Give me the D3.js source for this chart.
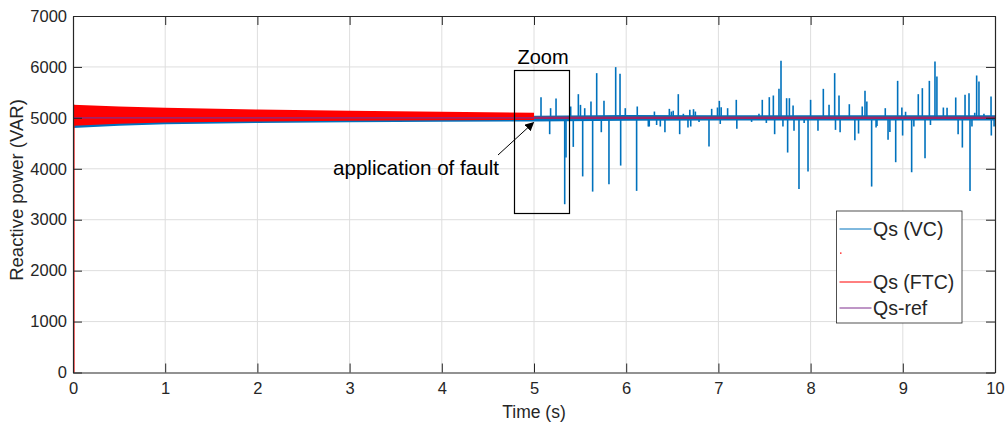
<!DOCTYPE html>
<html lang="en">
<head>
<meta charset="UTF-8">
<title>Reactive power</title>
<script src="https://cdnjs.cloudflare.com/ajax/libs/d3/7.8.5/d3.min.js"></script>
<style>
    body { margin: 0; background: #fff; }
    svg text { font-family: "Liberation Sans", Arial, sans-serif; fill: #262626; }
    .axis path, .axis line { stroke: #262626; }
    .grid line { stroke: #dedede; stroke-width: 1; }
</style>
</head>
<body>
<svg id="chart" width="1007" height="423"></svg>
<script>
// tick labels
const timeTicks = [0, 1, 2, 3, 4, 5, 6, 7, 8, 9, 10];
const powerTicks = [0, 1000, 2000, 3000, 4000, 5000, 6000, 7000];

// reference and fault instant
const refValue = 5000;
const faultTime = 5;

// FTC envelope before the fault (dense ripple)
const ftcTime  = [0, 0.5, 1, 2, 3, 4, 5];
const ftcUpper = [5255, 5225, 5200, 5165, 5140, 5120, 5100];
const ftcLower = [4845, 4885, 4910, 4930, 4942, 4952, 4958];

// VC envelope (small ripple)
const vcTime  = [0, 0.5, 1, 2, 3, 4, 5, 6, 7, 8, 9, 10];
const vcLower = [4800, 4845, 4875, 4900, 4912, 4922, 4928, 4945, 4950, 4950, 4950, 4950];
const vcUpper = [5000, 5005, 5010, 5015, 5020, 5025, 5040, 5055, 5050, 5050, 5050, 5050];

// VC spikes after the fault [time, value]
const vcSpikes = [
    [5.076, 5406], [5.17, 4679], [5.18, 5190], [5.239, 5380], [5.333, 3304], [5.347, 4220],
    [5.398, 5223], [5.426, 4430], [5.481, 5465], [5.504, 5255], [5.528, 3850], [5.55, 5190],
    [5.618, 5320], [5.636, 3552], [5.68, 5878], [5.73, 4718], [5.759, 5334], [5.813, 3697],
    [5.886, 5996], [5.933, 5865], [5.94, 4063], [5.99, 5190], [6.113, 3566], [6.12, 5223],
    [6.24, 4830], [6.25, 4830], [6.306, 5124], [6.33, 4860], [6.37, 4830], [6.42, 4718],
    [6.468, 5177], [6.49, 5124], [6.51, 5140], [6.565, 5465], [6.58, 4679], [6.62, 5080],
    [6.67, 4810], [6.69, 5157], [6.70, 4830], [6.73, 5170], [6.75, 5124], [6.79, 4920],
    [6.898, 4437], [6.927, 5177], [6.99, 5203], [7.01, 5334], [7.02, 4880], [7.03, 5210],
    [7.10, 5190], [7.194, 5354], [7.2, 4784], [7.36, 4920], [7.44, 5080], [7.476, 5354],
    [7.52, 4900], [7.552, 5406], [7.596, 5439], [7.61, 4679], [7.657, 5570], [7.679, 6120],
    [7.70, 4830], [7.74, 5386], [7.751, 4319], [7.77, 5386], [7.81, 5242], [7.82, 4745],
    [7.874, 3605], [7.93, 4900], [7.972, 3945], [8.0, 5354], [8.08, 4745], [8.138, 5570],
    [8.20, 5255], [8.261, 5878], [8.27, 4764], [8.308, 5439], [8.32, 4718], [8.42, 5268],
    [8.48, 4561], [8.52, 4692], [8.56, 5223], [8.59, 5531], [8.61, 5320], [8.662, 3651],
    [8.71, 4810], [8.72, 4840], [8.81, 5190], [8.84, 4568], [8.86, 4720], [8.923, 4129],
    [8.944, 5727], [8.99, 5203], [8.998, 4653], [9.03, 5120], [9.096, 3932], [9.12, 4830],
    [9.168, 5465], [9.212, 5583], [9.241, 4207], [9.288, 5727], [9.30, 4860], [9.349, 6107],
    [9.37, 5812], [9.44, 5203], [9.48, 5200], [9.574, 5400], [9.60, 4679], [9.646, 4417],
    [9.675, 5452], [9.718, 5485], [9.729, 3566], [9.75, 4830], [9.78, 5100], [9.801, 5832],
    [9.826, 5714], [9.88, 5080], [9.957, 5420], [9.96, 4653], [9.99, 4830]
];

const legendLabels = ["Qs (VC)", "Qs (FTC)", "Qs-ref"];
const colors = { vc: "#0072BD", ftc: "#FF0000", ref: "#7E2F8E" };

const W = 1007, H = 423;
const margin = { top: 16, right: 12, bottom: 50.5, left: 73 };
const iw = W - margin.left - margin.right;
const ih = H - margin.top - margin.bottom;

const svg = d3.select("#chart");
const g = svg.append("g").attr("transform", `translate(${margin.left},${margin.top})`);

const x = d3.scaleLinear().domain([0, 10]).range([0, iw]);
const y = d3.scaleLinear().domain([0, 7000]).range([ih, 0]);

// grid
const grid = g.append("g").attr("class", "grid");
grid.selectAll(".gx").data(timeTicks.slice(1, -1)).enter().append("line")
    .attr("x1", d => x(d)).attr("x2", d => x(d)).attr("y1", 0).attr("y2", ih);
grid.selectAll(".gy").data(powerTicks.slice(1, -1)).enter().append("line")
    .attr("y1", d => y(d)).attr("y2", d => y(d)).attr("x1", 0).attr("x2", iw);

const plot = g.append("g");
const band = d3.area().x(d => x(d[0])).y0(d => y(d[1])).y1(d => y(d[2]));

// VC band
plot.append("path")
    .datum(vcTime.map((t, i) => [t, vcLower[i], vcUpper[i]]))
    .attr("fill", colors.vc)
    .attr("d", band);

// VC spikes
plot.selectAll(".spike").data(vcSpikes).enter().append("line")
    .attr("x1", d => x(d[0])).attr("x2", d => x(d[0]))
    .attr("y1", y(refValue)).attr("y2", d => y(d[1]))
    .attr("stroke", colors.vc).attr("stroke-width", 1.6);

// FTC start-up + ripple band, then flat after the fault
plot.append("line")
    .attr("x1", x(0) + 0.8).attr("x2", x(0) + 0.8)
    .attr("y1", y(0)).attr("y2", y(ftcUpper[0]))
    .attr("stroke", colors.ftc).attr("stroke-width", 1.5);
plot.append("path")
    .datum(ftcTime.map((t, i) => [t, ftcLower[i], ftcUpper[i]]))
    .attr("fill", colors.ftc)
    .attr("d", band);
plot.append("line")
    .attr("x1", x(faultTime)).attr("x2", x(10))
    .attr("y1", y(refValue)).attr("y2", y(refValue))
    .attr("stroke", colors.ftc).attr("stroke-width", 2);

// reference
plot.append("line")
    .attr("x1", x(0)).attr("x2", x(10))
    .attr("y1", y(refValue)).attr("y2", y(refValue))
    .attr("stroke", colors.ref).attr("stroke-width", 1.2);

// axes, ticks inside, box all around
const noLabel = () => "";
g.append("g").attr("class", "axis").attr("transform", `translate(0,${ih})`)
    .call(d3.axisBottom(x).tickValues(timeTicks).tickSizeInner(-9).tickSizeOuter(0).tickPadding(10));
g.append("g").attr("class", "axis")
    .call(d3.axisTop(x).tickValues(timeTicks).tickSizeInner(-9).tickSizeOuter(0).tickFormat(noLabel));
g.append("g").attr("class", "axis")
    .call(d3.axisLeft(y).tickValues(powerTicks).tickFormat(d3.format("d"))
        .tickSizeInner(-9).tickSizeOuter(0).tickPadding(6));
g.append("g").attr("class", "axis").attr("transform", `translate(${iw},0)`)
    .call(d3.axisRight(y).tickValues(powerTicks).tickSizeInner(-9).tickSizeOuter(0).tickFormat(noLabel));
svg.selectAll(".axis").attr("font-family", null).attr("font-size", null);
svg.selectAll(".axis text").attr("font-size", 16.5);
svg.selectAll(".axis .domain").attr("stroke-width", 1.2);

// axis titles
svg.append("text")
    .attr("x", margin.left + x(5)).attr("y", 418)
    .attr("text-anchor", "middle").attr("font-size", 17.5)
    .text("Time (s)");
svg.append("text")
    .attr("transform", "translate(23,190) rotate(-90)")
    .attr("text-anchor", "middle").attr("font-size", 18.5)
    .text("Reactive power (VAR)");

// zoom box and fault annotation
const ann = svg.append("g");
ann.append("rect")
    .attr("x", 514.5).attr("y", 70.5).attr("width", 55).attr("height", 143)
    .attr("fill", "none").attr("stroke", "#000").attr("stroke-width", 1.2);
ann.append("text")
    .attr("x", 543).attr("y", 64).attr("text-anchor", "middle")
    .attr("font-size", 20).style("fill", "#000").text("Zoom");
ann.append("text")
    .attr("x", 499).attr("y", 175).attr("text-anchor", "end")
    .attr("font-size", 20.6).style("fill", "#000").text("application of fault");

svg.append("defs").append("marker")
    .attr("id", "arrow").attr("viewBox", "0 0 10 10")
    .attr("refX", 9).attr("refY", 5)
    .attr("markerWidth", 9).attr("markerHeight", 9)
    .attr("markerUnits", "userSpaceOnUse")
    .attr("orient", "auto")
    .append("path").attr("d", "M0,0 L10,5 L0,10 Z").attr("fill", "#000");
ann.append("line")
    .attr("x1", 498).attr("y1", 155).attr("x2", 533.5).attr("y2", 122.5)
    .attr("stroke", "#000").attr("stroke-width", 1)
    .attr("marker-end", "url(#arrow)");

// legend
const lg = svg.append("g").attr("transform", "translate(836.5,211)");
lg.append("rect").attr("width", 125.5).attr("height", 112)
    .attr("fill", "#fff").attr("stroke", "#262626").attr("stroke-width", 0.8);
const legendRows = [
    { label: legendLabels[0], color: colors.vc, y: 18 },
    { label: legendLabels[1], color: colors.ftc, y: 71 },
    { label: legendLabels[2], color: colors.ref, y: 97 }
];
legendRows.forEach(r => {
    lg.append("line").attr("x1", 3).attr("x2", 35).attr("y1", r.y).attr("y2", r.y)
        .attr("stroke", r.color).attr("stroke-width", 1);
    lg.append("text").attr("x", 36.5).attr("y", r.y).attr("dy", "0.35em")
        .attr("font-size", 19.5).text(r.label);
});
// stray empty legend entry
lg.append("rect").attr("x", 3.5).attr("y", 41.5).attr("width", 1.5).attr("height", 1.2).attr("fill", colors.ftc);
</script>
</body>
</html>
